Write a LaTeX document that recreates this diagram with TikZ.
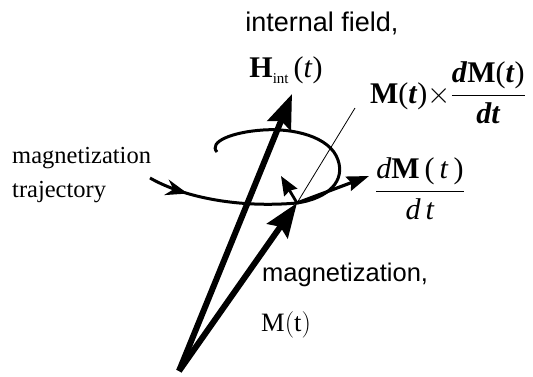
\RequirePackage{fix-cm}
\documentclass[tikz,border=0pt]{standalone}
\usepackage{fontspec}
\setmainfont{Liberation Serif}
\newfontfamily\arialf{Liberation Sans}
\usetikzlibrary{arrows.meta,decorations.markings}
\begin{document}
\begin{tikzpicture}[x=1pt,y=-1pt,
  bigarrow/.style={line width=6pt,-{Stealth[length=34pt,width=25pt,inset=5pt]}},
  medarrow/.style={line width=3.2pt,-{Stealth[length=22pt,width=15pt,inset=3pt]}},
  traj/.style={line width=3pt},
  leader/.style={line width=0.8pt},
  sanslbl/.style={font=\arialf\fontsize{27}{30}\selectfont,inner sep=0pt},
  seriflbl/.style={font=\fontsize{24.5}{30}\selectfont,inner sep=0pt},
  mathlbl/.style={font=\fontsize{30}{34}\selectfont,inner sep=0pt}]
\useasboundingbox (0,0) rectangle (533,376);
\coordinate (O) at (179,371);
\coordinate (Htip) at (292,94);
\coordinate (Mtip) at (297,203);
\coordinate (tstart) at (150,178);
\coordinate (tend) at (217,152);
\coordinate (dMtip) at (369,176);
\coordinate (cptip) at (281,176);
\coordinate (leadtop) at (355,108);
% trajectory
\draw[traj,postaction={decorate},decoration={markings,
   mark=at position 0.27 with {\arrow{Stealth[length=22pt,width=16pt]}}}]
  (tstart) .. controls (185,198) and (240,208) .. (Mtip);
\draw[traj] (Mtip) .. controls (330,198) and (345,180) .. (338,160)
  .. controls (330,136) and (292,128) .. (263,130)
  .. controls (232,132) and (208,142) .. (tend);
% vectors
\draw[bigarrow] (O) -- (Htip);
\draw[bigarrow] (O) -- (Mtip);
\draw[medarrow] (Mtip) -- (dMtip);
\draw[line width=2.8pt,-{Stealth[length=19pt,width=15pt,inset=2pt]}] (Mtip) -- (cptip);
\draw[leader] (leadtop) -- (Mtip);
% labels
\node[sanslbl] (intf) at (322,23) {internal field,};
\node[mathlbl] (hint) at (286,70) {\textbf{H}\raisebox{-6pt}{\fontsize{15}{15}\selectfont int}\,(\textit{t})};
\node[mathlbl,font=\fontsize{30}{34}\selectfont] (mxd) at (448,93) {$\mbox{\textbf{M}(\textbf{\textit{t}})}{\times}\displaystyle\frac{\mbox{\textbf{\textit{d}M}(\textbf{\textit{t}})}}{\mbox{\textbf{\textit{dt}}}}$};
\node[mathlbl] (dmdt) at (420,189) {$\displaystyle\frac{\mbox{\textit{d}\textbf{M}\,(\,\textit{t}\,)}}{\mbox{\textit{d\,t}}}$};
\node[seriflbl,anchor=west] (magtr1) at (12,158) {magnetization};
\node[seriflbl,anchor=west] (magtr2) at (12,192) {trajectory};
\node[sanslbl,anchor=west,font=\arialf\fontsize{25.5}{30}\selectfont] (magl) at (262,275) {magnetization,};
\node[mathlbl,anchor=west,font=\fontsize{26.5}{30}\selectfont] (mtl) at (261,325) {$\mathrm{M}(\mathrm{t})$};
\end{tikzpicture}
\end{document}
